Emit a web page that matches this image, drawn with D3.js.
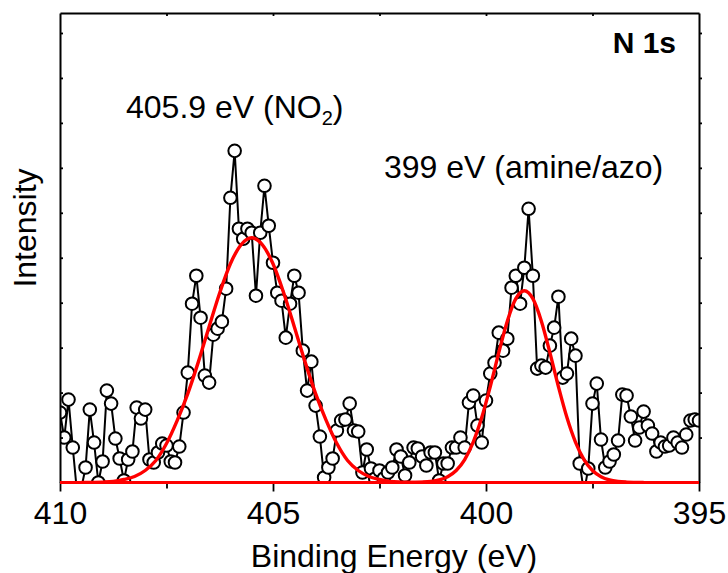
<!DOCTYPE html>
<html>
<head>
<meta charset="utf-8">
<script src="https://cdn.jsdelivr.net/npm/d3@7"></script>
<style>
  body { margin: 0; background: #fff; }
  text { font-family: "Liberation Sans", Arial, Helvetica, sans-serif; fill: #000; }
</style>
</head>
<body>
<div id="chart"></div>
<script>
// N 1s spectrum, binding energy grid 410.0 -> 395.0 eV in 0.1 eV steps
const energyStart = 410.0;
const energyStep = 0.1;

// measured intensity (a.u.), one value per grid point
const intensity = [
  70, 45, 83, 35, -10, -6, 15, 73, 40, 0,
  21, 92, 79, 44, 24, 2, 23, 31, 75, 64,
  73, 23, 20, 30, 39, 37, 21, 20, 36, 70,
  110, 179, 207, 165, 107, 100, 148, 154, 161, 194,
  285, 332, 254, 244, 254, 250, 187, 250, 297, 257,
  220, 190, 182, 145, 179, 207, 190, 132, 92, 121,
  77, 46, 5, 15, 24, 52, 62, 63, 79, 52,
  51, 10, 33, 14, 4, 12, 4, 10, 15, 33,
  26, 7, 20, 35, 34, 26, 17, 30, 30, 2,
  19, 19, 35, 35, 45, 35, 80, 87, 57, 40,
  82, 109, 120, 150, 132, 144, 195, 207, 179, 215,
  274, 207, 114, 117, 115, 137, 155, 186, 105, 109,
  144, 127, 19, -10, 14, 79, 99, 43, 15, 21,
  28, 42, 88, 87, 66, 42, 55, 71, 57, 49,
  31, 40, 36, 37, 45, 40, 35, 48, 62, 63,
  62
];

// fitted component 1 (NO2, ~405.5 eV)
const fit1Energy = [409.5, 409.0, 408.75, 408.5, 408.25, 408.0, 407.75, 407.5, 407.25, 407.0,
  406.75, 406.5, 406.25, 406.0, 405.75, 405.5, 405.25, 405.0, 404.75, 404.5,
  404.25, 404.0, 403.75, 403.5, 403.25, 403.0, 402.75, 402.5, 402.25, 402.0, 401.5];
const fit1Value = [0, 0.4, 1, 3, 6, 12, 22, 39, 62, 89,
  121, 156, 190, 219, 238, 245, 238, 219, 190, 156,
  121, 89, 62, 39, 22, 12, 6, 3, 1, 0.4, 0];

// fitted component 2 (amine/azo, ~399.1 eV)
const fit2Energy = [401.9, 401.5, 401.3, 401.1, 400.9, 400.7, 400.5, 400.3, 400.1, 399.9,
  399.7, 399.5, 399.3, 399.1, 398.9, 398.7, 398.5, 398.3, 398.1, 397.9,
  397.7, 397.5, 397.3, 397.1, 396.9, 396.7, 396.3];
const fit2Value = [0, 0.4, 1, 2.5, 5.8, 12, 23, 40.5, 65, 96,
  130, 161.5, 184, 192, 184, 161.5, 130, 96, 65, 40.5,
  23, 12, 5.8, 2.5, 1, 0.4, 0];

const xMajorTicks = [410, 405, 400, 395];
const xMinorTicks = [407.5, 402.5, 397.5];
const yTicks = [45, 90, 135, 180, 225, 270, 315, 360, 405, 450];

const data = intensity.map((v, i) => ({ e: +(energyStart - energyStep * i).toFixed(1), v }));

const W = 728, H = 573;
const margin = { top: 13, left: 60, right: 29, bottom: 90.5 };
const width = W - margin.left - margin.right,
      height = H - margin.top - margin.bottom;

const svg = d3.select("#chart").append("svg")
    .attr("width", W).attr("height", H);

const g = svg.append("g")
    .attr("transform", `translate(${margin.left},${margin.top})`);

const x = d3.scaleLinear().domain([410, 395]).range([0, width]);
const y = d3.scaleLinear().domain([0, 470]).range([height, 0]);

g.append("clipPath").attr("id", "plotclip")
  .append("rect").attr("width", width).attr("height", height);

const plot = g.append("g").attr("clip-path", "url(#plotclip)");

// data trace
const line = d3.line().x(d => x(d.e)).y(d => y(d.v));
plot.append("path")
    .datum(data)
    .attr("d", line)
    .attr("fill", "none")
    .attr("stroke", "#000")
    .attr("stroke-width", 2);

plot.selectAll("circle.pt")
    .data(data)
    .enter().append("circle")
    .attr("class", "pt")
    .attr("cx", d => x(d.e))
    .attr("cy", d => y(d.v))
    .attr("r", 6.3)
    .attr("fill", "#fff")
    .attr("stroke", "#000")
    .attr("stroke-width", 2);

// fit components
const fitLine = d3.line().x(d => x(d[0])).y(d => y(d[1])).curve(d3.curveMonotoneX);
const comp1 = d3.zip(fit1Energy, fit1Value).sort((a, b) => a[0] - b[0]);
const comp2 = d3.zip(fit2Energy, fit2Value).sort((a, b) => a[0] - b[0]);

[comp2, comp1].forEach(c => {
  plot.append("path")
      .datum(c)
      .attr("d", fitLine)
      .attr("fill", "none")
      .attr("stroke", "#ff0000")
      .attr("stroke-width", 3.4);
});

// frame and ticks
const styleAxis = sel => {
  sel.selectAll("path.domain").attr("stroke", "#000").attr("stroke-width", 2);
  sel.selectAll(".tick line").attr("stroke", "#000").attr("stroke-width", 1.8);
};

g.append("g")
  .attr("transform", `translate(0,${height})`)
  .call(d3.axisBottom(x).tickValues(xMinorTicks).tickSize(6).tickSizeOuter(0).tickFormat(""))
  .call(styleAxis);

const bottom = g.append("g")
  .attr("transform", `translate(0,${height})`)
  .call(d3.axisBottom(x).tickValues(xMajorTicks).tickSize(9).tickPadding(10).tickSizeOuter(0).tickFormat(d3.format("d")))
  .call(styleAxis);
bottom.selectAll(".tick text")
  .attr("font-size", 32)
  .attr("font-family", "Liberation Sans, Arial, sans-serif");

g.append("g")
  .call(d3.axisTop(x).tickValues([...xMinorTicks, 405, 400]).tickSize(-3).tickSizeOuter(0).tickFormat(""))
  .call(styleAxis);

g.append("g")
  .call(d3.axisLeft(y).tickValues(yTicks).tickSize(-3).tickSizeOuter(0).tickFormat(""))
  .call(styleAxis);

g.append("g")
  .attr("transform", `translate(${width},0)`)
  .call(d3.axisRight(y).tickValues(yTicks).tickSize(3).tickSizeOuter(0).tickFormat(""))
  .call(styleAxis);

// fit baseline drawn over the bottom frame
g.append("line")
  .attr("x1", x(410)).attr("x2", x(395))
  .attr("y1", y(0)).attr("y2", y(0))
  .attr("stroke", "#ff0000")
  .attr("stroke-width", 3);

// axis titles
svg.append("text")
  .attr("x", 394).attr("y", 567)
  .attr("text-anchor", "middle")
  .attr("font-size", 32)
  .text("Binding Energy (eV)");

svg.append("text")
  .attr("transform", "translate(36,228) rotate(-90)")
  .attr("text-anchor", "middle")
  .attr("font-size", 32)
  .text("Intensity");

// annotations
const no2 = svg.append("text")
  .attr("x", 126).attr("y", 118)
  .attr("font-size", 32);
no2.append("tspan").text("405.9 eV (NO");
no2.append("tspan").attr("font-size", 20).attr("dy", 7).text("2");
no2.append("tspan").attr("dy", -7).text(")");

svg.append("text")
  .attr("x", 384).attr("y", 178)
  .attr("font-size", 32)
  .text("399 eV (amine/azo)");

svg.append("text")
  .attr("x", 676).attr("y", 53)
  .attr("text-anchor", "end")
  .attr("font-size", 30)
  .attr("font-weight", "bold")
  .text("N 1s");
</script>
</body>
</html>
